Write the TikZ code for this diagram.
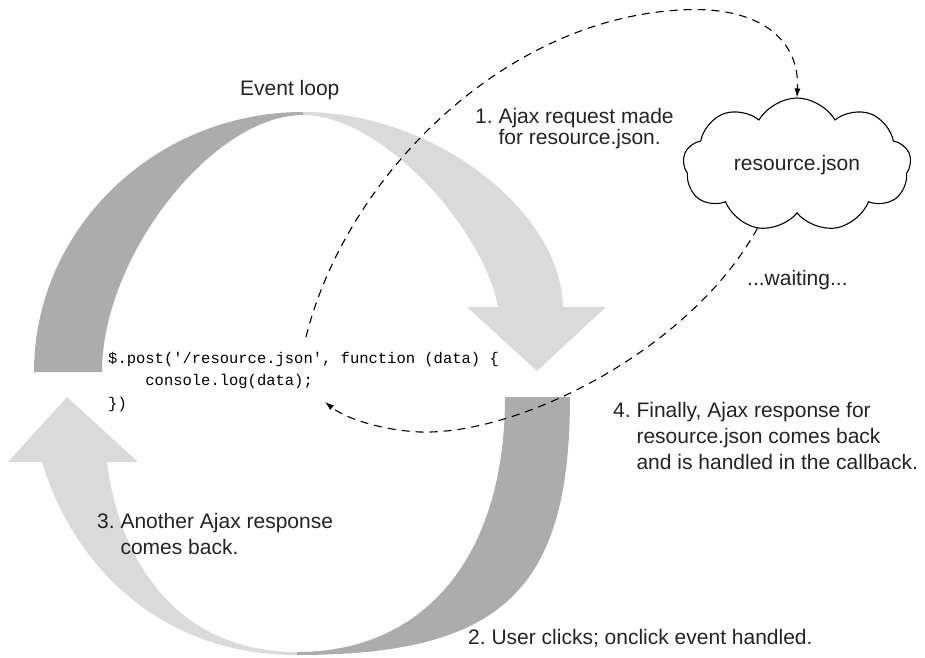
\documentclass[tikz,border=0pt]{standalone}
\usepackage{fontspec}
\setmainfont{Liberation Sans}
\newfontfamily\codefont{Liberation Mono}
\usetikzlibrary{shapes.symbols, arrows.meta}
\definecolor{mygray1}{RGB}{172,172,172}
\definecolor{mygray2}{RGB}{218,218,218}
\definecolor{mytext}{RGB}{35,35,35}
\frenchspacing
\tikzset{>=latex}
\tikzset{
  lbl/.style = {anchor = north west, inner sep = 0, align = left, text = mytext,
                font = \fontsize{21}{26}\selectfont},
  flow/.style = {->, >={Latex[length = 9pt, width = 6pt]}, line width = 1.1pt,
                 dash pattern = on 8pt off 6pt}
}

\begin{document}
\begin{tikzpicture}[x = 1pt, y = -1pt]
\useasboundingbox (0, 0) rectangle (925, 657);

% upper half of the loop
\begin{scope}
\clip (34, 372) .. controls (34, 229) and (155, 112) .. (303, 112)
  .. controls (433, 112) and (561, 210) .. (563, 307)
  -- (606, 307) -- (537, 371) -- (467, 307) -- (498, 307)
  .. controls (483, 227) and (381, 115) .. (303, 115)
  .. controls (213, 115) and (102, 256) .. (102, 372) -- cycle;
\fill[mygray1] (0, 0) rectangle (303, 657);
\fill[mygray2] (303, 0) rectangle (925, 657);
\end{scope}

% lower half of the loop
\begin{scope}
\clip (570, 397) .. controls (570, 590) and (502, 655) .. (297, 655)
  .. controls (157, 655) and (72, 562) .. (42, 462)
  -- (8, 462) -- (67, 397) -- (138, 462) -- (107, 462)
  .. controls (120, 565) and (180, 652) .. (297, 652)
  .. controls (426, 652) and (505, 555) .. (505, 397) -- cycle;
\fill[mygray2] (0, 0) rectangle (297, 657);
\fill[mygray1] (297, 0) rectangle (925, 657);
\end{scope}

\node[lbl] (title) at (240, 80) {Event loop};

\node[lbl, text = black, font = \codefont\fontsize{15.5}{22.5}\selectfont] (code) at (108, 352)
  {\$.post('/resource.json', function (data) \{\\
   \phantom{xxxx}console.log(data);\\
   \})};

\node[cloud, draw, cloud puffs = 9, cloud puff arc = 120, aspect = 1.75,
      minimum width = 228pt, minimum height = 134pt, inner sep = 0, line width = 1.1pt,
      text = mytext, font = \fontsize{21}{26}\selectfont] (res) at (797, 165) {resource.json};

\node[lbl, font = \fontsize{21}{21}\selectfont] (req-lbl) at (475, 108)
  {1. Ajax request made\\\hphantom{1. }for resource.json.};
\node[lbl] (wait-lbl) at (747, 270) {...waiting...};
\node[lbl] (resp-lbl) at (613, 402)
  {4. Finally, Ajax response for\\\hphantom{4. }resource.json comes back\\\hphantom{4. }and is handled in the callback.};
\node[lbl] (other-lbl) at (97, 513) {3. Another Ajax response\\\hphantom{3. }comes back.};
\node[lbl] (click-lbl) at (468, 629) {2. User clicks; onclick event handled.};

\coordinate (req) at (306, 337);
\coordinate (cb) at (325, 402);
\draw[flow] (req) .. controls (345, 180) and (500, 20) .. (680, 10)
  .. controls (760, 5) and (800, 40) .. (res.north);
\draw[flow] (res.238) .. controls (690, 350) and (520, 435) .. (420, 432)
  .. controls (380, 430) and (345, 418) .. (cb);
\end{tikzpicture}
\end{document}
